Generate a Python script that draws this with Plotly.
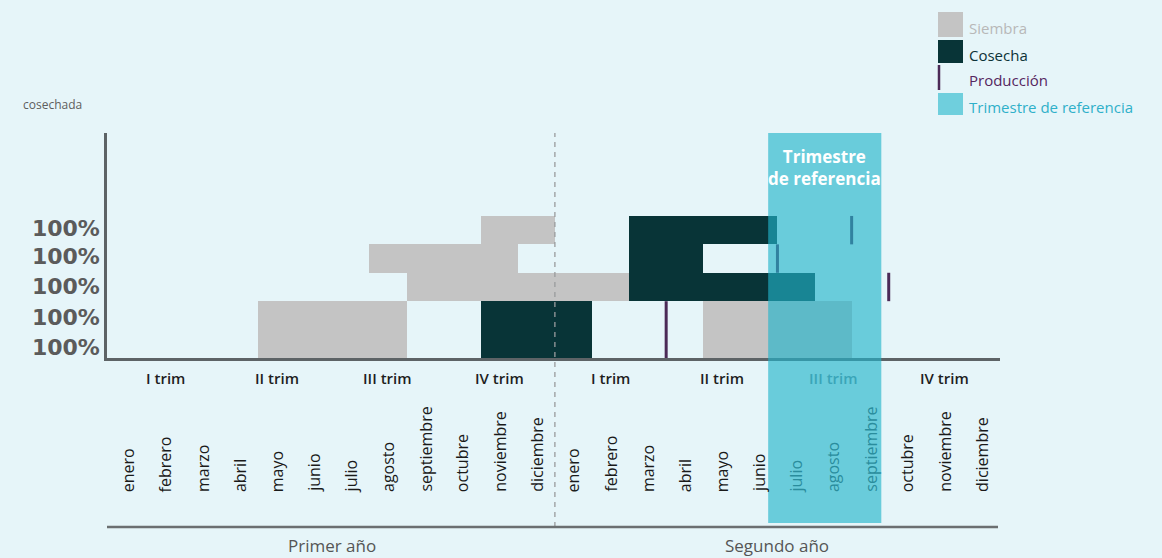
import plotly.graph_objects as go

# ---------------- data ----------------
month_names = ["enero", "febrero", "marzo", "abril", "mayo", "junio", "julio",
               "agosto", "septiembre", "octubre", "noviembre", "diciembre"]
year_labels = ["Primer año", "Segundo año"]
trim_labels = ["I trim", "II trim", "III trim", "IV trim"]
row_tick_labels = ["100%", "100%", "100%", "100%", "100%"]
row_tick_pos = [0.37, 1.43, 2.53, 3.58, 4.57]
axis_title = "cosechada"

# months counted from the start of "Primer año" (0 = enero, 12 = enero del segundo año)
siembra_start = [4, 16, 8, 7, 10]
siembra_end = [8, 20, 14, 11, 12]
siembra_row_lo = [0, 0, 2, 3, 4]
siembra_row_hi = [2, 2, 3, 4, 5]

cosecha_start = [10, 14, 14, 14]
cosecha_end = [13, 19, 16, 18]
cosecha_row_lo = [0, 2, 3, 4]
cosecha_row_hi = [2, 3, 4, 5]

produccion_month = [15, 21, 18, 20]
produccion_row_lo = [0, 2, 3, 4]
produccion_row_hi = [2, 3, 4, 5]

ref_band = [17.75, 20.8]          # trimestre de referencia (III trim, segundo año)
ref_months = [18, 19, 20]
ref_trim = (1, 2)                 # (year index, trim index)

legend_items = ["Siembra", "Cosecha", "Producción", "Trimestre de referencia"]

# ---------------- styles ----------------
BG = "#e6f5f9"
C_SIEMBRA = "#c4c4c4"
C_COSECHA = "#083437"
C_PROD = "#4b2a57"
C_BAND = "rgba(35,180,202,0.64)"
C_AXIS = "#5d6366"
FONT = "Open Sans"

W, H = 1162, 558
L, R, T, B = 107, 162, 133, 200
PW, PH = W - L - R, H - T - B


def fx(px):
    return (px - L) / PW


def fy(py):
    return (H - B - py) / PH


fig = go.Figure()

for s, e, lo, hi in zip(siembra_start, siembra_end, siembra_row_lo, siembra_row_hi):
    fig.add_trace(go.Bar(orientation="h", base=[s], x=[e - s], y=[(lo + hi) / 2],
                         width=[hi - lo], marker=dict(color=C_SIEMBRA, line=dict(width=0)),
                         name="Siembra", showlegend=False, hoverinfo="skip"))
for s, e, lo, hi in zip(cosecha_start, cosecha_end, cosecha_row_lo, cosecha_row_hi):
    fig.add_trace(go.Bar(orientation="h", base=[s], x=[e - s], y=[(lo + hi) / 2],
                         width=[hi - lo], marker=dict(color=C_COSECHA, line=dict(width=0)),
                         name="Cosecha", showlegend=False, hoverinfo="skip"))

px_, py_ = [], []
for m, lo, hi in zip(produccion_month, produccion_row_lo, produccion_row_hi):
    px_ += [m, m, None]
    py_ += [lo, hi, None]
fig.add_trace(go.Scatter(x=px_, y=py_, mode="lines", line=dict(color=C_PROD, width=3),
                         showlegend=False, hoverinfo="skip", cliponaxis=False))

shapes = []
# dashed year divider
shapes.append(dict(type="line", xref="x", yref="paper", x0=12, x1=12,
                   y0=fy(527), y1=1, line=dict(color="#9a9c9d", width=1.3, dash="5px,5px"),
                   layer="above"))
# reference band
shapes.append(dict(type="rect", xref="x", yref="paper", x0=ref_band[0], x1=ref_band[1],
                   y0=fy(523), y1=1, fillcolor=C_BAND, line=dict(width=0), layer="above"))
# bottom year line
shapes.append(dict(type="line", xref="paper", yref="paper", x0=0, x1=fx(998),
                   y0=fy(527), y1=fy(527), line=dict(color="#6b6f71", width=2.5)))

annotations = []
# y title
annotations.append(dict(text=axis_title, xref="paper", yref="paper", x=fx(21), y=fy(104),
                        xanchor="left", yanchor="middle", showarrow=False,
                        font=dict(family=FONT, size=12, color="#5e5e5e")))
# months
for yi in range(2):
    for mi, name in enumerate(month_names):
        k = yi * 12 + mi
        col = "#2a8d9d" if (k in ref_months) else "#1a1a1a"
        annotations.append(dict(text=name, xref="x", yref="paper", x=k + 0.5, y=fy(494),
                                xanchor="center", yanchor="bottom", textangle=-90,
                                showarrow=False, font=dict(family=FONT, size=16, color=col)))
    for ti, tname in enumerate(trim_labels):
        col = "#3aa5b8" if (yi, ti) == ref_trim else "#1e1e1e"
        annotations.append(dict(text=tname, xref="x", yref="paper", x=yi * 12 + ti * 3 + 1.5,
                                y=fy(378), xanchor="center", yanchor="middle", showarrow=False,
                                font=dict(family=FONT, size=15, color=col, weight=600)))
    annotations.append(dict(text=year_labels[yi], xref="x", yref="paper", x=yi * 12 + 6,
                            y=fy(545), xanchor="center", yanchor="middle", showarrow=False,
                            font=dict(family=FONT, size=17, color="#555555")))
# band title
annotations.append(dict(text="<b>Trimestre<br>de referencia</b>", xref="x", yref="paper",
                        x=(ref_band[0] + ref_band[1]) / 2, y=fy(167), xanchor="center",
                        yanchor="middle", showarrow=False,
                        font=dict(family=FONT, size=17, color="white")))

# custom legend
leg_cols = [C_SIEMBRA, C_COSECHA, C_PROD, "#6fcfdd"]
leg_text_cols = ["#b8b8b8", "#0c3237", "#552660", "#2fb0c9"]
leg_boxes = [(12, 37), (40, 63), (65, 90), (93, 115)]
for i, name in enumerate(legend_items):
    y0p, y1p = leg_boxes[i]
    if name == "Producción":
        shapes.append(dict(type="line", xref="paper", yref="paper", x0=fx(939), x1=fx(939),
                           y0=fy(y1p), y1=fy(y0p), line=dict(color=C_PROD, width=2.5)))
    else:
        shapes.append(dict(type="rect", xref="paper", yref="paper", x0=fx(938), x1=fx(963),
                           y0=fy(y1p), y1=fy(y0p), fillcolor=leg_cols[i], line=dict(width=0)))
    annotations.append(dict(text=name, xref="paper", yref="paper", x=fx(967),
                            y=fy((y0p + y1p) / 2 + 3), xanchor="left", yanchor="middle",
                            showarrow=False,
                            font=dict(family=FONT, size=15, color=leg_text_cols[i])))

fig.update_layout(
    width=W, height=H,
    margin=dict(l=L, r=R, t=T, b=B, autoexpand=False),
    paper_bgcolor=BG, plot_bgcolor=BG,
    barmode="overlay", bargap=0,
    showlegend=False,
    shapes=shapes, annotations=annotations,
    xaxis=dict(range=[-0.075, 24.0], showline=True, linecolor=C_AXIS, linewidth=2.5,
               showticklabels=False, showgrid=False, zeroline=False, ticks=""),
    yaxis=dict(range=[0, 7.92], showline=True, linecolor=C_AXIS, linewidth=2.5,
               tickvals=row_tick_pos, ticktext=row_tick_labels, ticks="",
               tickfont=dict(family="DejaVu Sans", size=22, color="#5b5b5b", weight="bold"),
               showgrid=False, zeroline=False),
)

fig.write_html("out.html", config={"displayModeBar": False},
               post_script="document.body.style.margin='0';"
                           "document.body.style.background='" + BG + "';")
